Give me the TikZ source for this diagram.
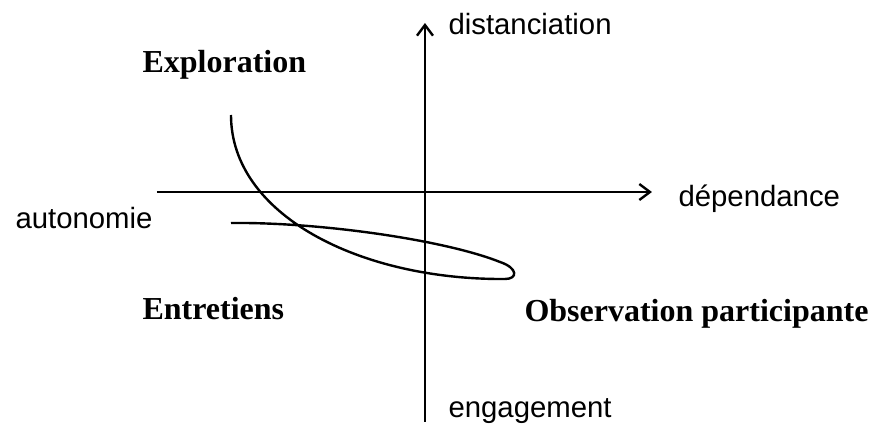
\documentclass[tikz,border=0pt]{standalone}
\usepackage{fontspec}
\setmainfont{Liberation Serif}
\setsansfont{Liberation Sans}
\usetikzlibrary{arrows.meta}

\begin{document}
\begin{tikzpicture}[x=0.375pt, y=-0.375pt,
  axe/.style = {line width=0.9pt, -{Straight Barb[length=4pt,width=6pt]}},
  pole/.style = {anchor=base west, inner sep=0pt, font=\fontsize{11}{13}\sffamily},
  methode/.style = {anchor=base west, inner sep=0pt, font=\fontsize{12}{14}\bfseries}]
\useasboundingbox (0,0) rectangle (874,425);

%% axis ends
\coordinate (gauche) at (157,192);
\coordinate (droite) at (652,192);
\coordinate (bas) at (425,422);
\coordinate (haut) at (425,23);

%% axis labels
\node[pole] (dist) at (448,35) {distanciation};
\node[pole] (dep) at (678,207) {dépendance};
\node[pole] (auto) at (15,228) {autonomie};
\node[pole] (eng) at (448,418) {engagement};

%% methods
\node[methode] (explo) at (142,73) {Exploration};
\node[methode] (entr) at (142,320) {Entretiens};
\node[methode] (obs) at (524,321) {Observation participante};

%%% axes
\draw[axe] (gauche) -- (droite);
\draw[axe] (bas) -- (haut);

%%% curve
\draw[line width=0.9pt] (231,115) .. controls (231,215) and (360,280) .. (505,279)
  .. controls (518,279) and (518,268) .. (500,262)
  .. controls (445,240) and (320,222) .. (231,223);

\end{tikzpicture}
\end{document}
